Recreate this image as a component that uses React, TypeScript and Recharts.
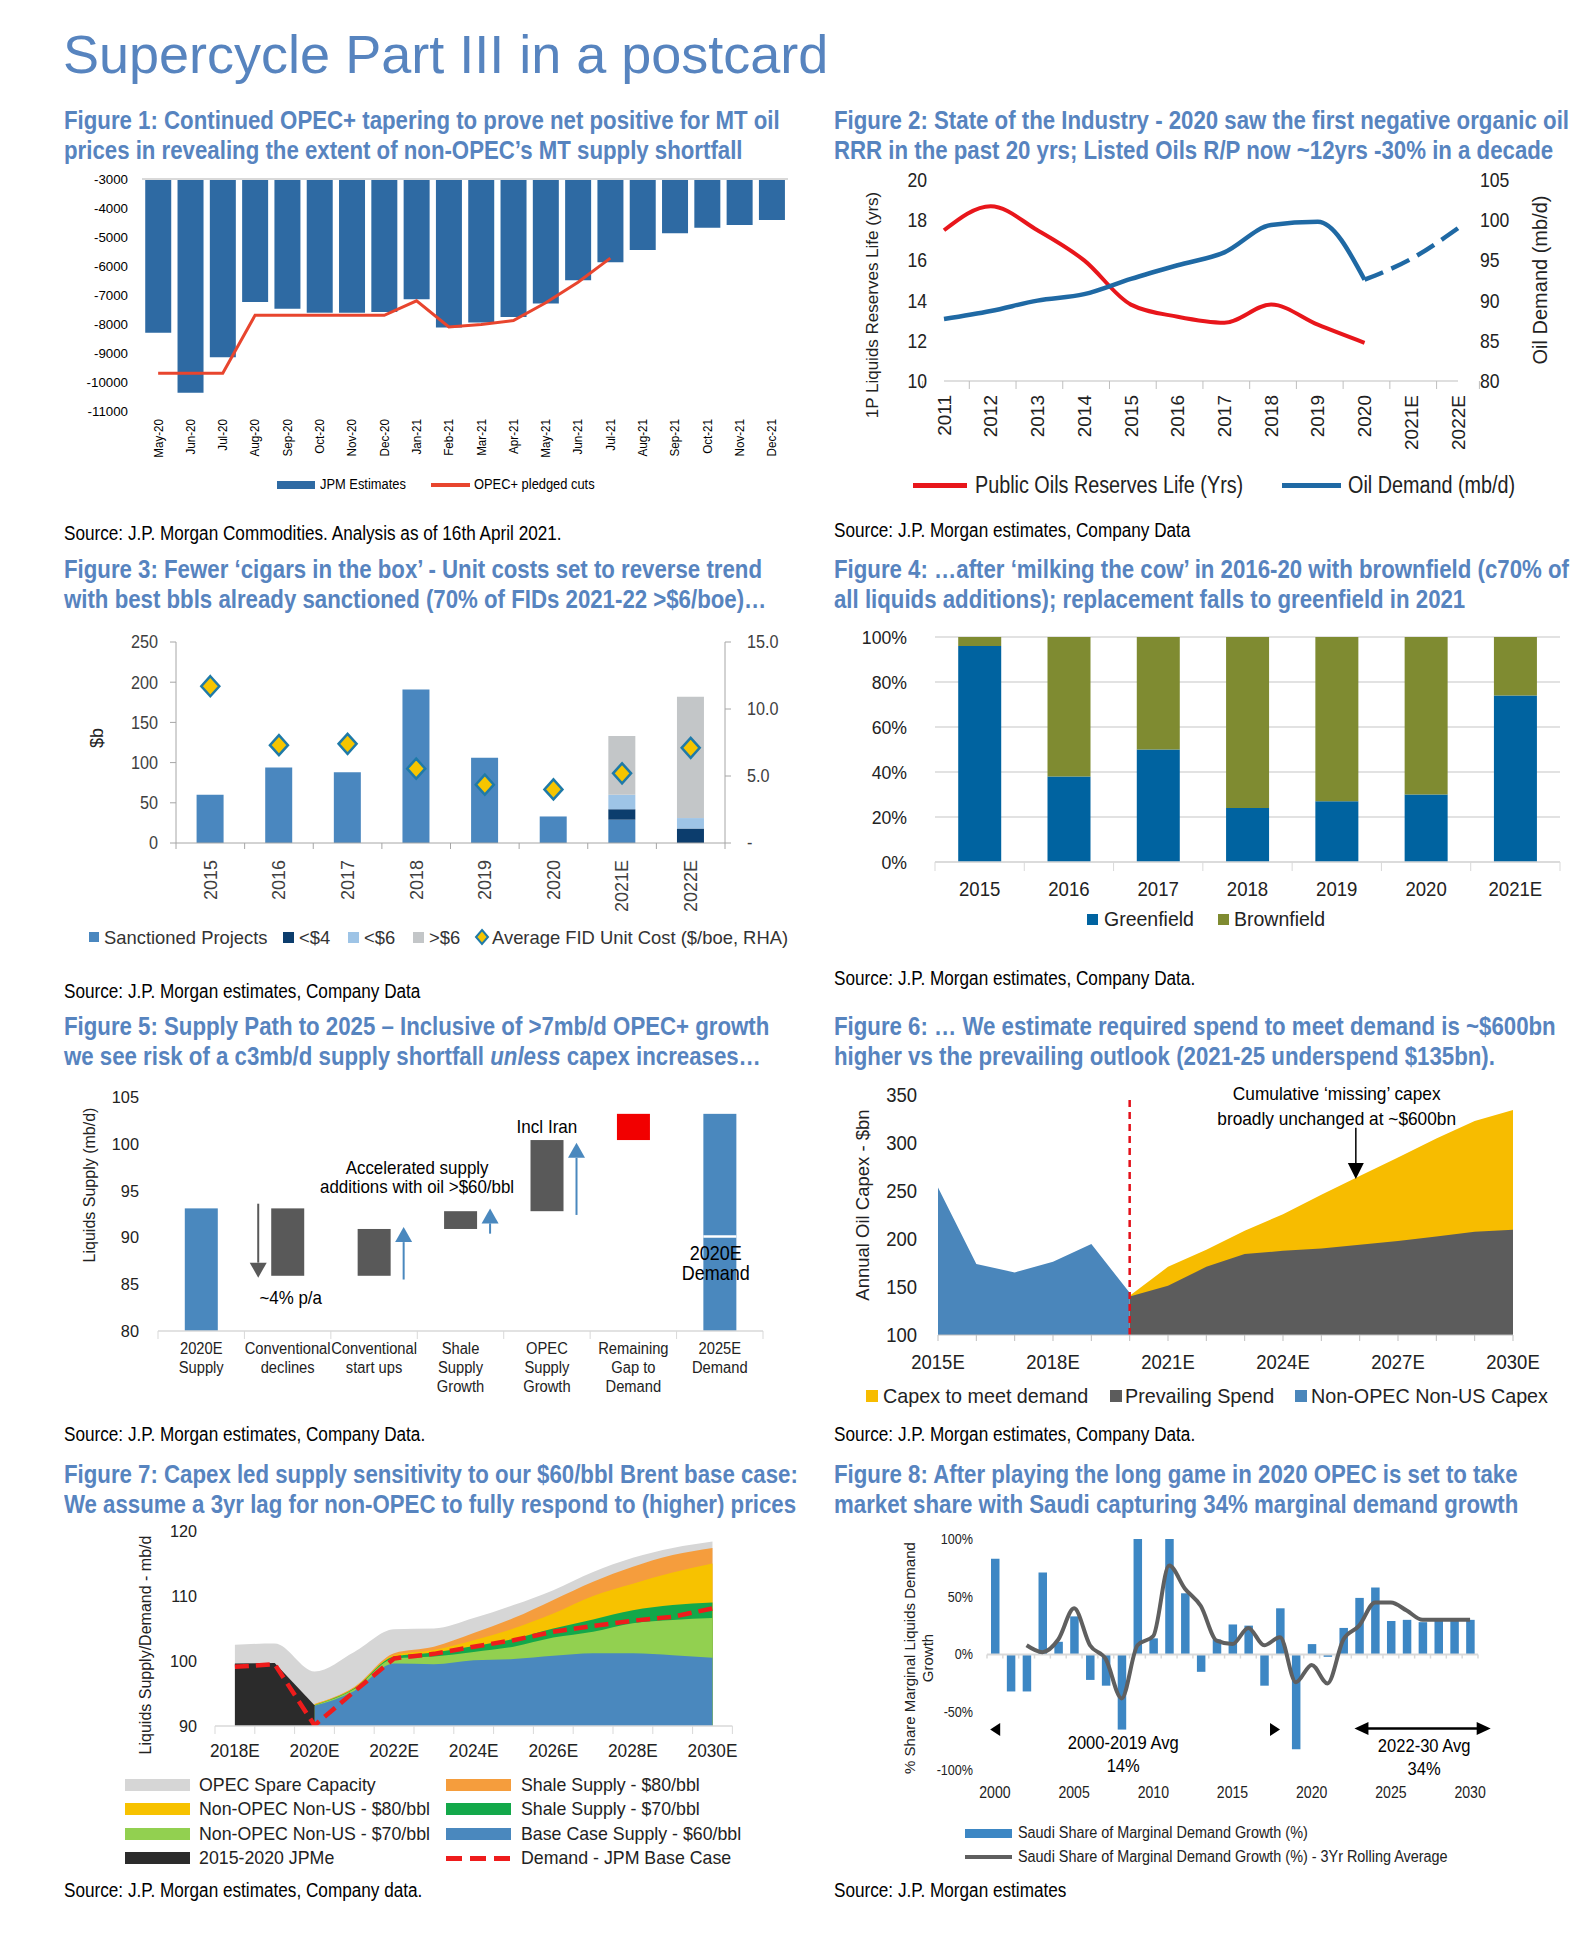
import React from 'react';
import {
  ComposedChart, BarChart, LineChart, AreaChart, Bar, Line, Area, XAxis, YAxis,
  CartesianGrid, ReferenceLine, ReferenceDot,
} from 'recharts';

const FONT = '"Liberation Sans", Arial, Helvetica, sans-serif';
const TBLUE = '#5784bf';

// ---------------- Figure 1 data ----------------
const f1Months = ['May-20', 'Jun-20', 'Jul-20', 'Aug-20', 'Sep-20', 'Oct-20', 'Nov-20', 'Dec-20', 'Jan-21', 'Feb-21', 'Mar-21', 'Apr-21', 'May-21', 'Jun-21', 'Jul-21', 'Aug-21', 'Sep-21', 'Oct-21', 'Nov-21', 'Dec-21'];
const f1JpmEstimates = [-8300, -10370, -9150, -7240, -7470, -7610, -7610, -7590, -7150, -8120, -7950, -7760, -7290, -6490, -5870, -5450, -4870, -4680, -4590, -4410];
const f1OpecCuts = [-9700, -9700, -9700, -7700, -7700, -7700, -7700, -7700, -7200, -8100, -8020, -7880, -7270, -6560, -5730, null, null, null, null, null];
const f1Ticks = [-3000, -4000, -5000, -6000, -7000, -8000, -9000, -10000, -11000];

// ---------------- Figure 2 data ----------------
const f2Years = ['2011', '2012', '2013', '2014', '2015', '2016', '2017', '2018', '2019', '2020', '2021E', '2022E'];
const f2ReservesLife = [17.5, 18.7, 17.5, 16.0, 13.8, 13.2, 12.9, 13.8, 12.8, 11.9, null, null];
const f2OilDemand = [87.7, 88.7, 90.0, 90.8, 92.7, 94.4, 96.0, 99.4, 99.8, 92.6, null, null];
const f2OilDemandEst = [null, null, null, null, null, null, null, null, null, 92.6, 95.2, 99.0];
const f2LeftTicks = [10, 12, 14, 16, 18, 20];
const f2RightTicks = [80, 85, 90, 95, 100, 105];

// ---------------- Figure 3 data ----------------
const f3Years = ['2015', '2016', '2017', '2018', '2019', '2020', '2021E', '2022E'];
const f3Sanctioned = [60, 94, 88, 191, 106, 33, 29, 0];
const f3Below4 = [0, 0, 0, 0, 0, 0, 13, 18];
const f3Below6 = [0, 0, 0, 0, 0, 0, 18, 13];
const f3Above6 = [0, 0, 0, 0, 0, 0, 73, 151];
const f3FidCost = [11.7, 7.3, 7.4, 5.55, 4.35, 4.0, 5.2, 7.1];
const f3LeftTicks = [0, 50, 100, 150, 200, 250];
const f3RightTicks = [0, 5, 10, 15];

// ---------------- Figure 4 data ----------------
const f4Years = ['2015', '2016', '2017', '2018', '2019', '2020', '2021E'];
const f4Greenfield = [96, 38, 50, 24, 27, 30, 74];
const f4Brownfield = [4, 62, 50, 76, 73, 70, 26];
const f4Ticks = [0, 20, 40, 60, 80, 100];

// ---------------- Figure 5 data ----------------
const f5Cats = ['2020E\nSupply', 'Conventional\ndeclines', 'Conventional\nstart ups', 'Shale\nSupply\nGrowth', 'OPEC\nSupply\nGrowth', 'Remaining\nGap to\nDemand', '2025E\nDemand'];
const f5Low = [80, 85.9, 85.9, 90.9, 92.8, 100.4, 80];
const f5High = [93.1, 93.1, 90.9, 92.8, 100.4, 103.2, 103.2];
const f5Colors = ['#4a88be', '#595959', '#595959', '#595959', '#595959', '#f20000', '#4a88be'];
const f5ArrowFrom = [null, 93.6, 85.5, 90.4, 92.4, null, null];
const f5ArrowTo = [null, 85.7, 91.1, 93.1, 100.1, null, null];
const f5ArrowSide = ['', 'left', 'right', 'right', 'right', '', ''];
const f5ArrowColor = ['', '#595959', '#4a88be', '#4a88be', '#4a88be', '', ''];
const f5Demand2020 = [null, null, null, null, null, null, 90.1];
const f5Ticks = [80, 85, 90, 95, 100, 105];

// ---------------- Figure 6 data ----------------
const f6Years = [2015, 2016, 2017, 2018, 2019, 2020, 2021, 2022, 2023, 2024, 2025, 2026, 2027, 2028, 2029, 2030];
const f6NonOpecCapex = [253.6, 173.9, 165.2, 176.3, 194.7, 144, null, null, null, null, null, null, null, null, null, null];
const f6Prevailing = [null, null, null, null, null, 140, 151.3, 171, 184.3, 187.7, 190, 194, 198, 202.6, 207.5, 209.6];
const f6ToMeetDemand = [null, null, null, null, null, 141, 171, 188.8, 208.5, 225.9, 246, 265.7, 284.8, 304.6, 323, 334.4];
const f6Ticks = [100, 150, 200, 250, 300, 350];

// ---------------- Figure 7 data (cumulative layer tops) ----------------
const f7Years = [2018, 2019, 2020, 2021, 2022, 2023, 2024, 2025, 2026, 2027, 2028, 2029, 2030];
const f7OpecSpare = [102.5, 102.7, 98.4, 101.4, 104.9, 105.0, 106.6, 108.6, 110.9, 113.7, 115.9, 117.4, 118.4];
const f7Shale80 = [null, null, 93.4, 96.0, 101.2, 102.2, 104.3, 106.6, 109.4, 112.2, 114.5, 116.3, 117.4];
const f7NonOpec80 = [null, null, 93.3, 95.9, 100.9, 101.7, 103.2, 105.0, 107.3, 110.0, 111.9, 113.6, 115.0];
const f7Shale70 = [null, null, 93.2, 95.8, 100.7, 101.3, 102.3, 103.4, 105.0, 106.4, 107.8, 108.6, 109.0];
const f7NonOpec70 = [null, null, 93.2, 95.7, 100.4, 100.7, 101.4, 102.2, 103.6, 104.5, 105.8, 106.3, 106.6];
const f7BaseCase = [null, null, 93.1, 95.4, 99.6, 99.5, 100.1, 100.3, 100.8, 101.2, 101.2, 100.9, 100.5];
const f7Jpme = [99.6, 99.7, 93.2, null, null, null, null, null, null, null, null, null, null];
const f7Demand = [99.1, 99.5, 90.1, 95.3, 100.4, 101.1, 102.2, 103.2, 104.5, 105.4, 106.2, 106.8, 108.1];
const f7Ticks = [90, 100, 110, 120];

// ---------------- Figure 8 data ----------------
const f8Years = [2000, 2001, 2002, 2003, 2004, 2005, 2006, 2007, 2008, 2009, 2010, 2011, 2012, 2013, 2014, 2015, 2016, 2017, 2018, 2019, 2020, 2021, 2022, 2023, 2024, 2025, 2026, 2027, 2028, 2029, 2030];
const f8Share = [83, -32, -32, 71, 11, 33, -22, -27, -65, 100, 14, 100, 53, -15, 13, 26, 25, -27, 40, -82, 9, -2, 23, 49, 58, 29, 30, 28, 30, 30, 30];
const f8Rolling = [null, null, 8, 2, 13, 40, 8, -4, -38, 8, 16, 77, 57, 42, 12, 9, 23, 8, 15, -24, -9, -25, 13, 25, 45, 45, 38, 30, 30, 30, 30];
const f8Ticks = [-100, -50, 0, 50, 100];
const f8XTicks = [2000, 2005, 2010, 2015, 2020, 2025, 2030];

// ---------------- tables for the library ----------------
const f1Data = f1Months.map((m, i) => ({ m, jpm: f1JpmEstimates[i], opec: f1OpecCuts[i] }));
const f2Data = f2Years.map((y, i) => ({ y, life: f2ReservesLife[i], dem: f2OilDemand[i], demE: f2OilDemandEst[i] }));
const f3Data = f3Years.map((y, i) => ({ y, sanc: f3Sanctioned[i], b4: f3Below4[i], b6: f3Below6[i], a6: f3Above6[i], fid: f3FidCost[i] }));
const f4Data = f4Years.map((y, i) => ({ y, g: f4Greenfield[i], b: f4Brownfield[i] }));
const f5Data = f5Cats.map((c, i) => ({
  c, rng: [f5Low[i], f5High[i]], color: f5Colors[i],
  aFrom: f5ArrowFrom[i], aTo: f5ArrowTo[i], aSide: f5ArrowSide[i], aColor: f5ArrowColor[i], mid: f5Demand2020[i],
}));
const f6Data = f6Years.map((yr, i) => ({ yr, non: f6NonOpecCapex[i], prev: f6Prevailing[i], meet: f6ToMeetDemand[i] }));
const f7Data = f7Years.map((yr, i) => ({
  yr, spare: f7OpecSpare[i], s80: f7Shale80[i], n80: f7NonOpec80[i], s70: f7Shale70[i], n70: f7NonOpec70[i],
  base: f7BaseCase[i], jpme: f7Jpme[i], dem: f7Demand[i],
}));
const f8Data = f8Years.map((yr, i) => ({ yr, share: f8Share[i], avg: f8Rolling[i] }));
// tick marks along the zero line of figure 8: at each year boundary
const f8ZeroTicks = [...f8Years.map((y) => y - 0.5), f8Years[f8Years.length - 1] + 0.5];

// ---------------- helpers ----------------
function HText({ x, y, size, children, bold = false, color = '#000', sx = 1, anchor = 'start', rot = 0 }: any) {
  const lh = size * 1.25;
  const style: any = {
    position: 'absolute', whiteSpace: 'nowrap', fontSize: size, lineHeight: `${lh}px`, color,
    fontWeight: bold ? 700 : 400, fontFamily: FONT,
  };
  if (rot) {
    style.left = x; style.top = y;
    style.transform = `translate(-50%,-50%) rotate(${rot}deg) scaleX(${sx})`;
    style.transformOrigin = 'center center';
  } else {
    style.left = x; style.top = y - lh / 2; style.transformOrigin = '0 0';
    style.transform = anchor === 'middle' ? `scaleX(${sx}) translateX(-50%)` : anchor === 'end' ? `scaleX(${sx}) translateX(-100%)` : `scaleX(${sx})`;
  }
  return <div style={style}>{children}</div>;
}

function FigTitle({ x, y, l1, l2 }: any) {
  return (
    <>
      <HText x={x} y={y} size={26} bold color={TBLUE} sx={0.855}>{l1}</HText>
      <HText x={x} y={y + 30.5} size={26} bold color={TBLUE} sx={0.855}>{l2}</HText>
    </>
  );
}

function Source({ x, y, children }: any) {
  return <HText x={x} y={y} size={19.5} sx={0.88}>{children}</HText>;
}

const Sq = ({ x, y, w, h, c }: any) => (
  <div style={{ position: 'absolute', left: x, top: y - h / 2, width: w, height: h, background: c }} />
);

function mkBox(px0: number, py0: number, px1: number, py1: number, lw: number, rw: number, xh: number, rightAxis = false, mt = 30) {
  return {
    left: px0 - lw, top: py0 - mt, width: (px1 - px0) + lw + rw, height: (py1 - py0) + mt + xh,
    margin: { top: mt, right: rightAxis ? 0 : rw, bottom: 0, left: 0 }, lw, rw, xh,
  };
}

const mkTick = (o: any) => (p: any) => {
  const { x, y, payload, index } = p;
  const v = payload ? payload.value : '';
  const size = o.size ?? 13;
  const lh = o.lh ?? size * 1.2;
  const label = o.fmt ? o.fmt(v) : String(v);
  const lines = label.split('\n');
  const show = o.show ? o.show(v) : true;
  const ts = o.tickStroke ?? '#bfbfbf';
  const els: any[] = [];
  if (o.tickLen) {
    const off = o.band ? o.band / 2 : 0;
    els.push(<line key="t0" x1={x - off} x2={x - off} y1={y} y2={y + o.tickLen} stroke={ts} strokeWidth={1} />);
    if (o.band && index === o.lastIdx) {
      els.push(<line key="t1" x1={x + off} x2={x + off} y1={y} y2={y + o.tickLen} stroke={ts} strokeWidth={1} />);
    }
  }
  if (show) {
    els.push(
      <g key="lbl" transform={`translate(${x + (o.dx ?? 0)},${y + (o.dy ?? 0)}) rotate(${o.rot ?? 0}) scale(${o.sx ?? 1},1)`}>
        <text textAnchor={o.anchor ?? 'middle'} fontSize={size} fill={o.fill ?? '#000'} fontFamily={FONT}>
          {lines.map((l: string, i: number) => <tspan key={i} x={0} y={i * lh} dy="0.35em">{l}</tspan>)}
        </text>
      </g>,
    );
  }
  return <g>{els}</g>;
};

function TextShape({ cx, cy, lines, size = 16, sx = 1, anchor = 'middle', lh, fill = '#000', dx = 0 }: any) {
  if (cx == null || cy == null) return <g />;
  const L = lh ?? size * 1.2;
  return (
    <g transform={`translate(${cx + dx},${cy}) scale(${sx},1)`}>
      <text textAnchor={anchor} fontSize={size} fill={fill} fontFamily={FONT}>
        {lines.map((l: string, i: number) => <tspan key={i} x={0} y={i * L} dy="0.35em">{l}</tspan>)}
      </text>
    </g>
  );
}

const annot = (key: string, x: any, y: number, lines: string[], opts: any = {}) => (
  <ReferenceDot key={key} x={x} y={y} r={0} fill="none" stroke="none" ifOverflow="visible"
    shape={(p: any) => <TextShape cx={p.cx} cy={p.cy} lines={lines} {...opts} />} />
);

const tri = (key: string, x: number, y: number, dir: string, len: number, half: number, color = '#000') => (
  <ReferenceDot key={key} x={x} y={y} r={0} fill="none" stroke="none" ifOverflow="visible"
    shape={(p: any) => {
      const { cx, cy } = p;
      if (cx == null) return <g />;
      let d = '';
      if (dir === 'down') d = `M${cx},${cy} L${cx - half},${cy - len} L${cx + half},${cy - len} Z`;
      if (dir === 'left') d = `M${cx},${cy} L${cx + len},${cy - half} L${cx + len},${cy + half} Z`;
      if (dir === 'right') d = `M${cx},${cy} L${cx - len},${cy - half} L${cx - len},${cy + half} Z`;
      return <path d={d} fill={color} />;
    }} />
);

const Diamond = (p: any) => {
  const { cx, cy } = p;
  if (cx == null || cy == null) return <g key={p.index} />;
  return <path key={p.index} d={`M${cx},${cy - 10} L${cx + 9},${cy} L${cx},${cy + 10} L${cx - 9},${cy} Z`} fill="#f6c500" stroke="#1f7aa8" strokeWidth={2.5} />;
};

const WaterShape = (p: any) => {
  const { x, y, width, height, payload } = p;
  if (!payload) return <g />;
  const lo = payload.rng[0];
  const hi = payload.rng[1];
  const ppu = height / (hi - lo);
  const py = (v: number) => y + (hi - v) * ppu;
  const els: any[] = [<rect key="r" x={x} y={y} width={width} height={height} fill={payload.color} />];
  if (payload.mid != null) {
    els.push(<line key="m" x1={x} x2={x + width} y1={py(payload.mid)} y2={py(payload.mid)} stroke="#fff" strokeWidth={2.5} />);
  }
  if (payload.aFrom != null) {
    const ax = payload.aSide === 'left' ? x - 13 : x + width + 13;
    const y0 = py(payload.aFrom);
    const y1 = py(payload.aTo);
    const up = y1 < y0;
    const headLen = 15;
    const half = 8.5;
    const yBase = up ? y1 + headLen : y1 - headLen;
    els.push(<line key="al" x1={ax} x2={ax} y1={y0} y2={yBase} stroke={payload.aColor} strokeWidth={2} />);
    els.push(<path key="ah" d={`M${ax},${y1} L${ax - half},${yBase} L${ax + half},${yBase} Z`} fill={payload.aColor} />);
  }
  return <g>{els}</g>;
};

// ---------------- boxes (plot areas) ----------------
const B1 = mkBox(142, 179, 788, 411, 100, 12, 66);
const B2 = mkBox(944, 180, 1458, 381, 100, 125, 86, true);
const B3 = mkBox(176, 642, 725, 843, 110, 70, 70, true);
const B4 = mkBox(935, 637, 1560, 862, 90, 20, 42);
const B5 = mkBox(158, 1097, 763, 1331, 100, 20, 70);
const B6 = mkBox(938, 1095, 1513, 1335, 90, 40, 44);
const B7 = mkBox(214.6, 1531, 732, 1726, 80, 20, 42);
const B8 = mkBox(987, 1539, 1478, 1770, 80, 40, 40);

const Pos = ({ b, children }: any) => <div style={{ position: 'absolute', left: b.left, top: b.top }}>{children}</div>;

function Fig1() {
  return (
    <Pos b={B1}>
      <ComposedChart width={B1.width} height={B1.height} data={f1Data} margin={B1.margin} barCategoryGap="10%">
        <XAxis dataKey="m" interval={0} axisLine={false} tickLine={false} tickSize={0} tickMargin={0} height={B1.xh}
          tick={mkTick({ size: 12.5, sx: 0.93, rot: -90, anchor: 'end', dy: 8 })} />
        <YAxis domain={[-11000, -3000]} ticks={f1Ticks} width={B1.lw} axisLine={false} tickLine={false} tickSize={0} tickMargin={0}
          allowDataOverflow tick={mkTick({ size: 13.3, anchor: 'end', dx: -14 })} />
        <ReferenceLine y={-3000} stroke="#d9d9d9" strokeWidth={2} />
        <Bar dataKey="jpm" fill="#2e6aa3" isAnimationActive={false} />
        <Line dataKey="opec" type="linear" stroke="#e8452e" strokeWidth={3} dot={false} activeDot={false} isAnimationActive={false} />
      </ComposedChart>
    </Pos>
  );
}

function Fig2() {
  return (
    <Pos b={B2}>
      <LineChart width={B2.width} height={B2.height} data={f2Data} margin={B2.margin}>
        <XAxis dataKey="y" interval={0} axisLine={{ stroke: '#bfbfbf' }} tickLine={false} tickSize={0} tickMargin={0} height={B2.xh}
          tick={mkTick({ size: 19, rot: -90, anchor: 'end', dy: 14, band: 514 / 12, tickLen: 8, lastIdx: 11, fill: '#222' })} />
        <YAxis yAxisId="l" domain={[10, 20]} ticks={f2LeftTicks} width={B2.lw} axisLine={false} tickLine={false} tickSize={0} tickMargin={0}
          tick={mkTick({ size: 20, sx: 0.88, anchor: 'end', dx: -17, fill: '#222' })} />
        <YAxis yAxisId="r" orientation="right" domain={[80, 105]} ticks={f2RightTicks} width={B2.rw} axisLine={false} tickLine={false} tickSize={0} tickMargin={0}
          tick={mkTick({ size: 20, sx: 0.88, anchor: 'start', dx: 22, fill: '#222' })} />
        <Line yAxisId="l" dataKey="life" type="monotone" stroke="#e8161b" strokeWidth={4} dot={false} activeDot={false} isAnimationActive={false} />
        <Line yAxisId="r" dataKey="dem" type="monotone" stroke="#1f69a4" strokeWidth={4.5} dot={false} activeDot={false} isAnimationActive={false} />
        <Line yAxisId="r" dataKey="demE" type="monotone" stroke="#1f69a4" strokeWidth={4.5} strokeDasharray="20 9" dot={false} activeDot={false} isAnimationActive={false} />
      </LineChart>
    </Pos>
  );
}

function Fig3() {
  return (
    <Pos b={B3}>
      <ComposedChart width={B3.width} height={B3.height} data={f3Data} margin={B3.margin} barCategoryGap="30%">
        <XAxis dataKey="y" interval={0} axisLine={{ stroke: '#a6a6a6' }} tickLine={false} tickSize={0} tickMargin={0} height={B3.xh}
          tick={mkTick({ size: 18, rot: -90, anchor: 'end', dy: 17, band: 549 / 8, tickLen: 6, tickStroke: '#a6a6a6', lastIdx: 7, fill: '#404040' })} />
        <YAxis yAxisId="l" domain={[0, 250]} ticks={f3LeftTicks} width={B3.lw} axisLine={{ stroke: '#a6a6a6' }} tickLine={{ stroke: '#a6a6a6' }}
          tickSize={6} tickMargin={0} tick={mkTick({ size: 18, sx: 0.9, anchor: 'end', dx: -12, fill: '#404040' })} />
        <YAxis yAxisId="r" orientation="right" domain={[0, 15]} ticks={f3RightTicks} width={B3.rw} axisLine={{ stroke: '#a6a6a6' }} tickLine={{ stroke: '#a6a6a6' }}
          tickSize={6} tickMargin={0} tick={mkTick({ size: 18, sx: 0.9, anchor: 'start', dx: 16, fill: '#404040', fmt: (v: number) => (v === 0 ? '-' : v.toFixed(1)) })} />
        <Bar yAxisId="l" stackId="s" dataKey="sanc" fill="#4a87bf" isAnimationActive={false} />
        <Bar yAxisId="l" stackId="s" dataKey="b4" fill="#0c3d6d" isAnimationActive={false} />
        <Bar yAxisId="l" stackId="s" dataKey="b6" fill="#9ec4e6" isAnimationActive={false} />
        <Bar yAxisId="l" stackId="s" dataKey="a6" fill="#c3c6c8" isAnimationActive={false} />
        <Line yAxisId="r" dataKey="fid" stroke="none" dot={Diamond} activeDot={false} isAnimationActive={false} />
      </ComposedChart>
    </Pos>
  );
}

function Fig4() {
  return (
    <Pos b={B4}>
      <BarChart width={B4.width} height={B4.height} data={f4Data} margin={B4.margin} barCategoryGap="26%">
        <CartesianGrid vertical={false} stroke="#d9d9d9" strokeWidth={1.5} />
        <XAxis dataKey="y" interval={0} axisLine={{ stroke: '#d9d9d9', strokeWidth: 1.5 }} tickLine={false} tickSize={0} tickMargin={0} height={B4.xh}
          tick={mkTick({ size: 20, sx: 0.93, dy: 27, band: 625 / 7, tickLen: 9, tickStroke: '#d9d9d9', lastIdx: 6, fill: '#222' })} />
        <YAxis domain={[0, 100]} ticks={f4Ticks} width={B4.lw} axisLine={false} tickLine={false} tickSize={0} tickMargin={0}
          tick={mkTick({ size: 19, sx: 0.93, anchor: 'end', dx: -28, fill: '#222', fmt: (v: number) => `${v}%` })} />
        <Bar dataKey="g" stackId="s" fill="#0063a0" isAnimationActive={false} />
        <Bar dataKey="b" stackId="s" fill="#7f8b31" isAnimationActive={false} />
      </BarChart>
    </Pos>
  );
}

function Fig5() {
  return (
    <Pos b={B5}>
      <BarChart width={B5.width} height={B5.height} data={f5Data} margin={B5.margin} barCategoryGap="31%">
        <XAxis dataKey="c" interval={0} axisLine={{ stroke: '#d9d9d9', strokeWidth: 1.5 }} tickLine={false} tickSize={0} tickMargin={0} height={B5.xh}
          tick={mkTick({ size: 16, sx: 0.92, dy: 17, lh: 19, band: 605 / 7, tickLen: 8, tickStroke: '#d9d9d9', lastIdx: 6, fill: '#222' })} />
        <YAxis domain={[80, 105]} ticks={f5Ticks} width={B5.lw} axisLine={false} tickLine={false} tickSize={0} tickMargin={0}
          tick={mkTick({ size: 17, sx: 0.96, anchor: 'end', dx: -19, fill: '#222' })} />
        <Bar dataKey="rng" shape={WaterShape} isAnimationActive={false} />
        {annot('iran', f5Cats[4], 101.8, ['Incl Iran'], { size: 18, sx: 0.95 })}
        {annot('acc', f5Cats[2], 97.5, ['Accelerated supply', 'additions with oil >$60/bbl'], { size: 18, sx: 0.94, lh: 20, dx: 43 })}
        {annot('pa', f5Cats[1], 83.6, ['~4% p/a'], { size: 18, sx: 0.94, dx: 3 })}
        {annot('dem20', f5Cats[6], 88.3, ['2020E', 'Demand'], { size: 20, sx: 0.9, lh: 20, dx: -4 })}
      </BarChart>
    </Pos>
  );
}

function Fig6() {
  return (
    <Pos b={B6}>
      <AreaChart width={B6.width} height={B6.height} data={f6Data} margin={B6.margin}>
        <XAxis dataKey="yr" type="number" domain={[2015, 2030]} ticks={f6Years} allowDataOverflow axisLine={{ stroke: '#bfbfbf' }} tickLine={false}
          tickSize={0} tickMargin={0} height={B6.xh}
          tick={mkTick({ size: 21, sx: 0.88, dy: 27, tickLen: 6, fill: '#222', show: (v: number) => (v - 2015) % 3 === 0, fmt: (v: number) => `${v}E` })} />
        <YAxis domain={[100, 350]} ticks={f6Ticks} width={B6.lw} axisLine={false} tickLine={false} tickSize={0} tickMargin={0} allowDataOverflow
          tick={mkTick({ size: 21, sx: 0.88, anchor: 'end', dx: -21, fill: '#222' })} />
        <Area dataKey="meet" type="linear" stroke="none" fill="#f7bc00" fillOpacity={1} isAnimationActive={false} activeDot={false} />
        <Area dataKey="prev" type="linear" stroke="none" fill="#5c5c5c" fillOpacity={1} isAnimationActive={false} activeDot={false} />
        <Area dataKey="non" type="linear" stroke="none" fill="#4a86bb" fillOpacity={1} isAnimationActive={false} activeDot={false} />
        <ReferenceLine x={2020} stroke="#e3101a" strokeWidth={2.5} strokeDasharray="7 5" />
        {annot('cum', 2025.4, 352, ['Cumulative \u2018missing\u2019 capex', 'broadly unchanged at ~$600bn'], { size: 18.8, sx: 0.92, lh: 25 })}
        <ReferenceLine segment={[{ x: 2025.9, y: 316 }, { x: 2025.9, y: 275 }]} stroke="#000" strokeWidth={1.5} ifOverflow="visible" />
        {tri('cumh', 2025.9, 262.5, 'down', 16, 8)}
      </AreaChart>
    </Pos>
  );
}

function Fig7() {
  return (
    <Pos b={B7}>
      <AreaChart width={B7.width} height={B7.height} data={f7Data} margin={B7.margin}>
        <XAxis dataKey="yr" type="number" domain={[2017.5, 2030.5]} ticks={f7Years} allowDataOverflow axisLine={{ stroke: '#d9d9d9', strokeWidth: 1.5 }}
          tickLine={false} tickSize={0} tickMargin={0} height={B7.xh}
          tick={mkTick({ size: 18.5, sx: 0.93, dy: 25, band: (732 - 214.6) / 13, tickLen: 8, tickStroke: '#d9d9d9', lastIdx: 12, fill: '#222', show: (v: number) => v % 2 === 0, fmt: (v: number) => `${v}E` })} />
        <YAxis domain={[90, 120]} ticks={f7Ticks} width={B7.lw} axisLine={false} tickLine={false} tickSize={0} tickMargin={0} allowDataOverflow
          tick={mkTick({ size: 17, sx: 0.95, anchor: 'end', dx: -18, fill: '#222' })} />
        <Area dataKey="spare" type="monotone" stroke="none" fill="#d6d6d6" fillOpacity={1} isAnimationActive={false} activeDot={false} />
        <Area dataKey="s80" type="monotone" stroke="none" fill="#f59d3d" fillOpacity={1} isAnimationActive={false} activeDot={false} />
        <Area dataKey="n80" type="monotone" stroke="none" fill="#f7c200" fillOpacity={1} isAnimationActive={false} activeDot={false} />
        <Area dataKey="s70" type="monotone" stroke="none" fill="#13a84a" fillOpacity={1} isAnimationActive={false} activeDot={false} />
        <Area dataKey="n70" type="monotone" stroke="none" fill="#92d050" fillOpacity={1} isAnimationActive={false} activeDot={false} />
        <Area dataKey="base" type="monotone" stroke="none" fill="#4a88be" fillOpacity={1} isAnimationActive={false} activeDot={false} />
        <Area dataKey="jpme" type="linear" stroke="none" fill="#2b2b2b" fillOpacity={1} isAnimationActive={false} activeDot={false} />
        <Area dataKey="dem" type="linear" stroke="#ee1c1c" strokeWidth={4.5} strokeDasharray="14 7" fill="none" fillOpacity={0} isAnimationActive={false} activeDot={false} />
      </AreaChart>
    </Pos>
  );
}

function Fig8() {
  return (
    <Pos b={B8}>
      <ComposedChart width={B8.width} height={B8.height} data={f8Data} margin={B8.margin}>
        <XAxis dataKey="yr" type="number" domain={[1999.5, 2030.5]} ticks={f8XTicks} allowDataOverflow axisLine={false} tickLine={false}
          tickSize={0} tickMargin={0} height={B8.xh} tick={mkTick({ size: 16, sx: 0.88, dy: 22, fill: '#222' })} />
        <YAxis domain={[-100, 100]} ticks={f8Ticks} width={B8.lw} axisLine={false} tickLine={false} tickSize={0} tickMargin={0} allowDataOverflow
          tick={mkTick({ size: 14, sx: 0.9, anchor: 'end', dx: -14, fill: '#222', fmt: (v: number) => `${v}%` })} />
        <ReferenceLine y={0} stroke="#d9d9d9" strokeWidth={2} />
        {f8ZeroTicks.map((t) => (
          <ReferenceLine key={`zt${t}`} segment={[{ x: t, y: 0 }, { x: t, y: -3.5 }]} stroke="#d9d9d9" strokeWidth={1.5} ifOverflow="visible" />
        ))}
        <Bar dataKey="share" fill="#3d87c4" barSize={8.5} isAnimationActive={false} />
        <Line dataKey="avg" type="monotone" stroke="#5f5f5f" strokeWidth={4} dot={false} activeDot={false} isAnimationActive={false} />
        {tri('lt', 1999.7, -65, 'left', 10, 6.5)}
        {tri('rt', 2018.0, -65, 'right', 10, 6.5)}
        <ReferenceLine segment={[{ x: 2023.5, y: -64 }, { x: 2030.6, y: -64 }]} stroke="#000" strokeWidth={2.5} ifOverflow="visible" />
        {tri('dl', 2022.7, -64, 'left', 14, 6.5)}
        {tri('dr', 2031.3, -64, 'right', 14, 6.5)}
        {annot('a1', 2008.1, -76.6, ['2000-2019 Avg', '14%'], { size: 18, sx: 0.92, lh: 23 })}
        {annot('a2', 2027.1, -78.6, ['2022-30 Avg', '34%'], { size: 18, sx: 0.92, lh: 23 })}
      </ComposedChart>
    </Pos>
  );
}

export default function App() {
  return (
    <div style={{ position: 'absolute', left: 0, top: 0, width: 1592, height: 1936, background: '#fff', fontFamily: FONT, overflow: 'hidden' }}>
      <HText x={63} y={55} size={54} color={TBLUE}>Supercycle Part III in a postcard</HText>

      {/* Figure 1 */}
      <FigTitle x={64} y={120} l1="Figure 1: Continued OPEC+ tapering to prove net positive for MT oil" l2="prices in revealing the extent of non-OPEC’s MT supply shortfall" />
      <Fig1 />
      <Sq x={277} y={485} w={38} h={8} c="#2e6aa3" />
      <HText x={320} y={485} size={14} sx={0.92}>JPM Estimates</HText>
      <Sq x={431} y={485} w={39} h={4} c="#e8452e" />
      <HText x={474} y={485} size={14} sx={0.92}>OPEC+ pledged cuts</HText>
      <Source x={64} y={533}>Source: J.P. Morgan Commodities. Analysis as of 16th April 2021.</Source>

      {/* Figure 2 */}
      <FigTitle x={834} y={120} l1="Figure 2: State of the Industry - 2020 saw the first negative organic oil" l2="RRR in the past 20 yrs; Listed Oils R/P now ~12yrs -30% in a decade" />
      <Fig2 />
      <HText x={873} y={305} size={17} rot={-90} color="#222">1P Liquids Reserves Life (yrs)</HText>
      <HText x={1540} y={280} size={20} rot={-90} color="#222">Oil Demand (mb/d)</HText>
      <Sq x={913} y={485} w={54} h={5} c="#e8161b" />
      <HText x={975} y={485} size={23} sx={0.86} color="#222">Public Oils Reserves Life (Yrs)</HText>
      <Sq x={1282} y={485} w={59} h={5} c="#1f69a4" />
      <HText x={1348} y={485} size={23} sx={0.86} color="#222">Oil Demand (mb/d)</HText>
      <Source x={834} y={530}>Source: J.P. Morgan estimates, Company Data</Source>

      {/* Figure 3 */}
      <FigTitle x={64} y={569} l1="Figure 3: Fewer ‘cigars in the box’ - Unit costs set to reverse trend" l2="with best bbls already sanctioned (70% of FIDs 2021-22 >$6/boe)…" />
      <Fig3 />
      <HText x={97} y={738} size={18} rot={-90} color="#222">$b</HText>
      <Sq x={89} y={937} w={10} h={10} c="#4a87bf" />
      <HText x={104} y={937} size={18.4} color="#333">Sanctioned Projects</HText>
      <Sq x={283} y={937} w={11} h={11} c="#0c3d6d" />
      <HText x={299} y={937} size={18.4} color="#333">{'<$4'}</HText>
      <Sq x={348} y={937} w={11} h={11} c="#9ec4e6" />
      <HText x={364} y={937} size={18.4} color="#333">{'<$6'}</HText>
      <Sq x={413} y={937} w={11} h={11} c="#c3c6c8" />
      <HText x={429} y={937} size={18.4} color="#333">{'>$6'}</HText>
      <svg style={{ position: 'absolute', left: 474, top: 928 }} width={16} height={18}>
        <path d="M8,2 L14,9 L8,16 L2,9 Z" fill="#f6c500" stroke="#1f7aa8" strokeWidth={2} />
      </svg>
      <HText x={492} y={937} size={18.4} color="#333">Average FID Unit Cost ($/boe, RHA)</HText>
      <Source x={64} y={991}>Source: J.P. Morgan estimates, Company Data</Source>

      {/* Figure 4 */}
      <FigTitle x={834} y={569} l1="Figure 4: …after ‘milking the cow’ in 2016-20 with brownfield (c70% of" l2="all liquids additions); replacement falls to greenfield in 2021" />
      <Fig4 />
      <Sq x={1087} y={919} w={11} h={11} c="#0063a0" />
      <HText x={1104} y={919} size={19.5} color="#222">Greenfield</HText>
      <Sq x={1218} y={919} w={11} h={11} c="#7f8b31" />
      <HText x={1234} y={919} size={19.5} color="#222">Brownfield</HText>
      <Source x={834} y={978}>Source: J.P. Morgan estimates, Company Data.</Source>

      {/* Figure 5 */}
      <FigTitle x={64} y={1026} l1="Figure 5: Supply Path to 2025 – Inclusive of >7mb/d OPEC+ growth" l2={<>we see risk of a c3mb/d supply shortfall <i>unless</i> capex increases…</>} />
      <Fig5 />
      <HText x={90} y={1185} size={16} rot={-90} color="#222">Liquids Supply (mb/d)</HText>
      <Source x={64} y={1434}>Source: J.P. Morgan estimates, Company Data.</Source>

      {/* Figure 6 */}
      <FigTitle x={834} y={1026} l1="Figure 6: … We estimate required spend to meet demand is ~$600bn" l2="higher vs the prevailing outlook (2021-25 underspend $135bn)." />
      <Fig6 />
      <HText x={863} y={1205} size={18.5} rot={-90} color="#222">Annual Oil Capex - $bn</HText>
      <Sq x={866} y={1396} w={12} h={12} c="#f7bc00" />
      <HText x={883} y={1396} size={21} sx={0.94} color="#222">Capex to meet demand</HText>
      <Sq x={1110} y={1396} w={12} h={12} c="#5c5c5c" />
      <HText x={1125} y={1396} size={21} sx={0.94} color="#222">Prevailing Spend</HText>
      <Sq x={1295} y={1396} w={12} h={12} c="#4a86bb" />
      <HText x={1311} y={1396} size={21} sx={0.94} color="#222">Non-OPEC Non-US Capex</HText>
      <Source x={834} y={1434}>Source: J.P. Morgan estimates, Company Data.</Source>

      {/* Figure 7 */}
      <FigTitle x={64} y={1474} l1="Figure 7: Capex led supply sensitivity to our $60/bbl Brent base case:" l2="We assume a 3yr lag for non-OPEC to fully respond to (higher) prices" />
      <Fig7 />
      <HText x={146} y={1645} size={16} rot={-90} color="#222">Liquids Supply/Demand - mb/d</HText>
      <Sq x={125} y={1785} w={65} h={12} c="#d6d6d6" />
      <HText x={199} y={1785} size={18.5} sx={0.96} color="#222">OPEC Spare Capacity</HText>
      <Sq x={125} y={1809} w={65} h={12} c="#f7c200" />
      <HText x={199} y={1809} size={18.5} sx={0.96} color="#222">Non-OPEC Non-US - $80/bbl</HText>
      <Sq x={125} y={1834} w={65} h={12} c="#92d050" />
      <HText x={199} y={1834} size={18.5} sx={0.96} color="#222">Non-OPEC Non-US - $70/bbl</HText>
      <Sq x={125} y={1858} w={65} h={12} c="#2b2b2b" />
      <HText x={199} y={1858} size={18.5} sx={0.96} color="#222">2015-2020 JPMe</HText>
      <Sq x={446} y={1785} w={65} h={12} c="#f59d3d" />
      <HText x={521} y={1785} size={18.5} sx={0.96} color="#222">Shale Supply - $80/bbl</HText>
      <Sq x={446} y={1809} w={65} h={12} c="#13a84a" />
      <HText x={521} y={1809} size={18.5} sx={0.96} color="#222">Shale Supply - $70/bbl</HText>
      <Sq x={446} y={1834} w={65} h={12} c="#4a88be" />
      <HText x={521} y={1834} size={18.5} sx={0.96} color="#222">Base Case Supply - $60/bbl</HText>
      <Sq x={446} y={1858} w={16} h={5} c="#ee1c1c" />
      <Sq x={470} y={1858} w={16} h={5} c="#ee1c1c" />
      <Sq x={494} y={1858} w={16} h={5} c="#ee1c1c" />
      <HText x={521} y={1858} size={18.5} sx={0.96} color="#222">Demand - JPM Base Case</HText>
      <Source x={64} y={1890}>Source: J.P. Morgan estimates, Company data.</Source>

      {/* Figure 8 */}
      <FigTitle x={834} y={1474} l1="Figure 8: After playing the long game in 2020 OPEC is set to take" l2="market share with Saudi capturing 34% marginal demand growth" />
      <Fig8 />
      <HText x={910} y={1658} size={15} rot={-90} color="#222">% Share Marginal Liquids Demand</HText>
      <HText x={928} y={1658} size={15} rot={-90} color="#222">Growth</HText>
      <Sq x={965} y={1833} w={47} h={9} c="#3d87c4" />
      <HText x={1018} y={1833} size={16} sx={0.9} color="#222">Saudi Share of Marginal Demand Growth (%)</HText>
      <Sq x={965} y={1857} w={47} h={4} c="#5f5f5f" />
      <HText x={1018} y={1857} size={16} sx={0.9} color="#222">Saudi Share of Marginal Demand Growth (%) - 3Yr Rolling Average</HText>
      <Source x={834} y={1890}>Source: J.P. Morgan estimates</Source>
    </div>
  );
}
